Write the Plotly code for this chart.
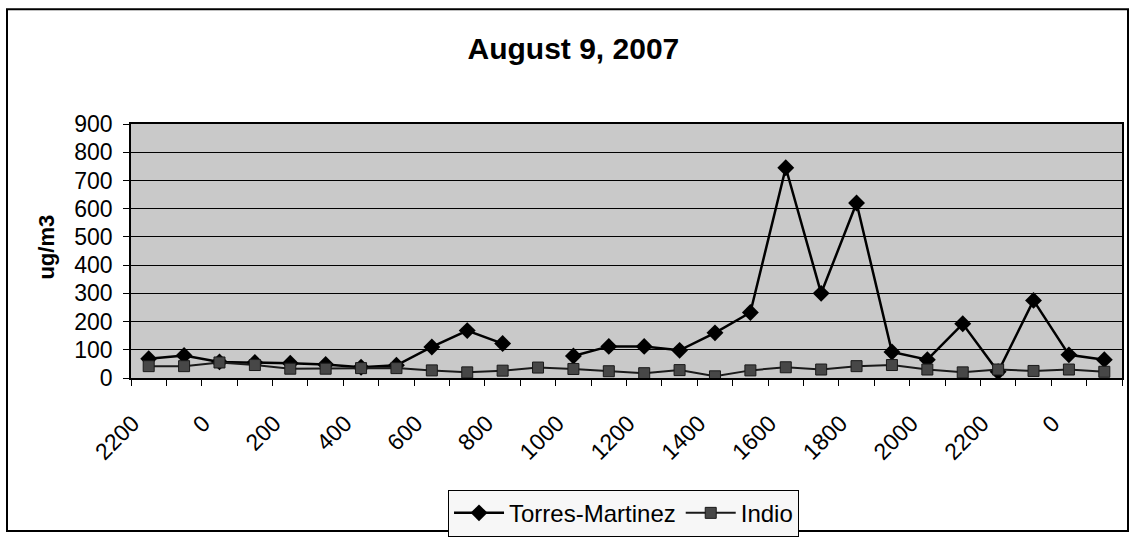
import plotly.graph_objects as go

# Hourly samples, 2200 on Aug 8 through 0100 on Aug 10
hours = ["2200", "2300", "0", "100", "200", "300", "400", "500", "600", "700",
         "800", "900", "1000", "1100", "1200", "1300", "1400", "1500", "1600",
         "1700", "1800", "1900", "2000", "2100", "2200", "2300", "0", "100"]

torres_martinez = [68, 80, 57, 55, 52, 48, 38, 45, 110, 168, 122, None, 78, 112,
                   112, 98, 160, 232, 745, 300, 620, 92, 65, 192, 22, 275, 82, 65]
indio = [42, 42, 55, 46, 33, 33, 35, 35, 27, 20, 26, 37, 32, 24, 17, 28, 6, 27,
         38, 30, 42, 46, 30, 20, 30, 25, 30, 22]

y_ticks = [0, 100, 200, 300, 400, 500, 600, 700, 800, 900]

pos = list(range(len(hours)))
label_pos = pos[::2]
label_text = hours[::2]
boundaries = [p - 0.5 for p in pos] + [pos[-1] + 0.5]

FONT = "Liberation Sans, Arial, sans-serif"

fig = go.Figure()
fig.add_trace(go.Scatter(
    x=pos, y=torres_martinez, name="Torres-Martinez", mode="lines+markers",
    text=hours, line=dict(color="#000000", width=2.5),
    marker=dict(symbol="diamond", size=13, color="#000000"),
))
fig.add_trace(go.Scatter(
    x=pos, y=indio, name="Indio", mode="lines+markers",
    text=hours, line=dict(color="#1a1a1a", width=2),
    marker=dict(symbol="square", size=11, color="#474747",
                line=dict(color="#1a1a1a", width=1)),
))

fig.update_layout(
    width=1131, height=546,
    margin=dict(l=131, r=9, t=124, b=163),
    paper_bgcolor="white",
    plot_bgcolor="#c9c9c9",
    font=dict(family=FONT, color="#000000", size=22),
    title=dict(text="<b>August 9, 2007</b>", x=0.507, xanchor="center",
               y=1 - 48 / 546, yanchor="middle",
               font=dict(size=30, family=FONT, color="#000000")),
    showlegend=True,
    legend=dict(orientation="h", x=0.497, xanchor="center", y=-0.44,
                yanchor="top", bgcolor="#f7f7f7", bordercolor="#000000",
                borderwidth=1, font=dict(size=24, family=FONT),
                itemwidth=50, tracegroupgap=0),
)

fig.update_xaxes(
    range=[-0.5, len(hours) - 0.5], automargin=False,
    tickmode="array", tickvals=label_pos, ticktext=label_text,
    tickangle=-45, ticks="", showgrid=False, zeroline=False,
    showline=True, linecolor="#000000", linewidth=1.5, mirror=True,
    tickfont=dict(size=23, family=FONT),
    ticklabelstandoff=21, ticklabelshift=-16,
    minor=dict(tickmode="array", tickvals=boundaries, ticks="outside",
               ticklen=6, tickcolor="#000000", tickwidth=1, showgrid=False),
)
fig.update_yaxes(
    range=[0, 900], tickmode="array", tickvals=y_ticks, automargin=False,
    ticks="outside", ticklen=6, tickcolor="#000000",
    showgrid=True, gridcolor="#000000", gridwidth=1.4, zeroline=False,
    showline=True, linecolor="#000000", linewidth=1.5, mirror=True,
    tickfont=dict(size=23, family=FONT), ticklabelstandoff=6,
)

# axis title
fig.add_annotation(text="<b>ug/m3</b>", xref="paper", yref="paper",
                   x=(47 - 131) / 991, y=(383 - 250) / 259, textangle=-90,
                   showarrow=False, xanchor="center", yanchor="middle",
                   font=dict(size=22, family=FONT))

# outer chart frame
fig.add_shape(type="rect", xref="paper", yref="paper",
              x0=(7 - 131) / 991, x1=(1128 - 131) / 991,
              y0=(383 - 539) / 259, y1=(383 - 7) / 259,
              line=dict(color="#000000", width=2), fillcolor="rgba(0,0,0,0)",
              layer="below")

fig.write_html("out.html")
